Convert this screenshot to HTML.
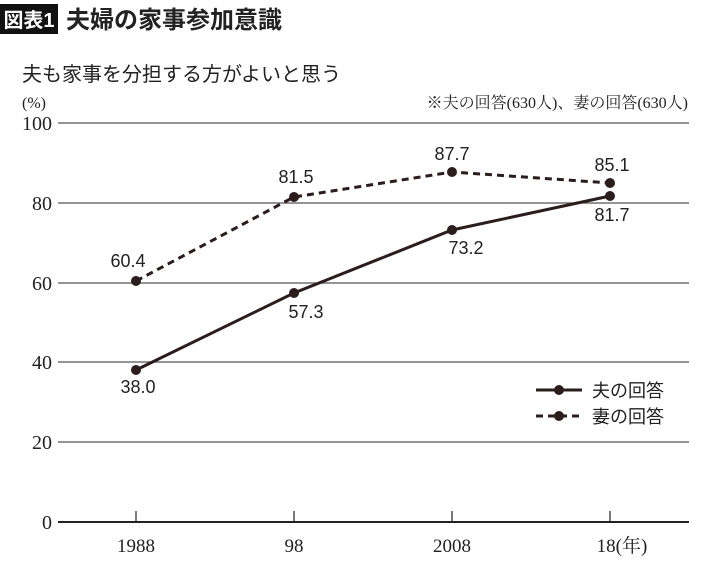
<!DOCTYPE html>
<html><head><meta charset="utf-8"><style>
body{margin:0;background:#fff;width:710px;height:582px;overflow:hidden}
svg{display:block}
.s{font-family:"Liberation Serif","Noto Serif CJK SC",serif}
.g{font-family:"Liberation Sans","Noto Sans CJK JP",sans-serif}
</style></head><body>
<svg width="710" height="582" viewBox="0 0 710 582">
<rect x="0" y="4" width="58" height="30" fill="#111"/>
<text x="29" y="27" text-anchor="middle" fill="#fff" font-size="20" font-weight="bold" class="g">図表1</text>
<text x="66" y="28" font-size="24" font-weight="bold" fill="#222" class="g">夫婦の家事参加意識</text>
<text x="22" y="81" font-size="20" fill="#222" class="g">夫も家事を分担する方がよいと思う</text>
<text x="22" y="108" font-size="16" fill="#222" class="s">(%)</text>
<text x="688" y="108" font-size="16" fill="#222" text-anchor="end" class="s">※夫の回答(630人)、妻の回答(630人)</text>
<g stroke="#555" stroke-width="1.3">
<line x1="58" y1="123" x2="689" y2="123"/>
<line x1="58" y1="203" x2="689" y2="203"/>
<line x1="58" y1="283" x2="689" y2="283"/>
<line x1="58" y1="362" x2="689" y2="362"/>
<line x1="58" y1="442" x2="689" y2="442"/>
</g>
<line x1="58" y1="522" x2="689" y2="522" stroke="#222" stroke-width="2"/>
<g stroke="#222" stroke-width="1.2">
<line x1="136" y1="511" x2="136" y2="522"/><line x1="294" y1="511" x2="294" y2="522"/>
<line x1="452" y1="511" x2="452" y2="522"/><line x1="610" y1="511" x2="610" y2="522"/>
</g>
<g font-size="20" fill="#222" class="s" text-anchor="end">
<text x="52" y="130">100</text><text x="52" y="210">80</text><text x="52" y="290">60</text>
<text x="52" y="369">40</text><text x="52" y="449">20</text><text x="52" y="529">0</text>
</g>
<g font-size="19" fill="#222" class="s" text-anchor="middle">
<text x="136" y="552">1988</text><text x="294" y="552">98</text><text x="452" y="552">2008</text>
<text x="622" y="552">18(年)</text>
</g>
<polyline points="136,281 294,197 452,172 610,183" fill="none" stroke="#2a1d1b" stroke-width="3" stroke-dasharray="7,5"/>
<polyline points="136,370 294,293 452,230 610,196" fill="none" stroke="#2a1d1b" stroke-width="3"/>
<g fill="#2a1d1b">
<circle cx="136" cy="281" r="5"/><circle cx="294" cy="197" r="5"/><circle cx="452" cy="172" r="5"/><circle cx="610" cy="183" r="5"/>
<circle cx="136" cy="370" r="5"/><circle cx="294" cy="293" r="5"/><circle cx="452" cy="230" r="5"/><circle cx="610" cy="196" r="5"/>
</g>
<g font-size="18" fill="#222" class="g" text-anchor="middle">
<text x="128" y="267">60.4</text><text x="296" y="183">81.5</text><text x="452" y="160">87.7</text><text x="612" y="171">85.1</text>
<text x="138" y="393">38.0</text><text x="306" y="318">57.3</text><text x="466" y="254">73.2</text><text x="612" y="221">81.7</text>
</g>
<line x1="536" y1="390" x2="582" y2="390" stroke="#2a1d1b" stroke-width="3"/>
<circle cx="559" cy="390" r="5" fill="#2a1d1b"/>
<line x1="536" y1="416" x2="582" y2="416" stroke="#2a1d1b" stroke-width="3" stroke-dasharray="7,5"/>
<circle cx="559" cy="416" r="5" fill="#2a1d1b"/>
<text x="592" y="397" font-size="18" fill="#222" class="g">夫の回答</text>
<text x="592" y="423" font-size="18" fill="#222" class="g">妻の回答</text>
</svg>
</body></html>
